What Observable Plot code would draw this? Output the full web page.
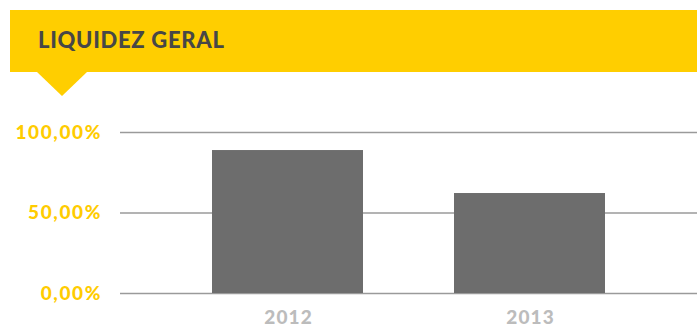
<!DOCTYPE html>
<html>
<head>
<meta charset="utf-8">
<script src="https://cdn.jsdelivr.net/npm/d3@7"></script>
<script src="https://cdn.jsdelivr.net/npm/@observablehq/plot@0.6"></script>
<style>
  html, body { margin: 0; padding: 0; background: #fff; }
  #wrap { position: relative; width: 697px; height: 328px; overflow: hidden; font-family: Lato, "DejaVu Sans", sans-serif; }
  #banner { position: absolute; left: 10px; top: 10px; width: 687px; height: 62px; background: #FFCE00; }
  #pointer { position: absolute; left: 37px; top: 72px; width: 0; height: 0;
    border-left: 25px solid transparent; border-right: 25px solid transparent; border-top: 24px solid #FFCE00; }
  #title { position: absolute; left: 38px; top: 27px; font-size: 22px; font-weight: 900; color: #474747; letter-spacing: 0.7px; line-height: 26px; }
  #chart { position: absolute; left: 0; top: 100px; }
  #chart g[aria-label="y-axis tick label"] { letter-spacing: 1.6px; }
  #chart g[aria-label="x-axis tick label"] { letter-spacing: 1.2px; }
</style>
</head>
<body>
<div id="wrap">
  <div id="banner"></div>
  <div id="pointer"></div>
  <div id="title">LIQUIDEZ GERAL</div>
  <div id="chart"></div>
</div>
<script>
const years = ["2012", "2013"];
const values = [88.8, 62.1];
const yTicks = [0, 50, 100];
const yTickLabels = ["0,00%", "50,00%", "100,00%"];

const data = years.map((y, i) => ({year: y, value: values[i]}));

const plot = Plot.plot({
  width: 697,
  height: 228,
  marginLeft: 120,
  marginRight: 0,
  marginTop: 32,
  marginBottom: 35,
  style: {fontFamily: "Lato, sans-serif", background: "transparent"},
  x: {domain: years, padding: 0.375, axis: null},
  y: {domain: [0, 100], axis: null},
  marks: [
    Plot.ruleY(yTicks, {stroke: "#9a9a9a", strokeWidth: 1.5}),
    Plot.barY(data, {x: "year", y: "value", fill: "#6d6d6d"}),
    Plot.axisY({ticks: yTicks, tickSize: 0, tickPadding: 18.5, tickFormat: (d) => yTickLabels[yTicks.indexOf(d)],
      fill: "#FFCC00", fontSize: 19, fontWeight: 900, label: null}),
    Plot.axisX({tickSize: 0, tickPadding: 17, fill: "#bcbcbc", fontSize: 19, fontWeight: 900, label: null, dx: 0.6})
  ]
});
document.getElementById("chart").appendChild(plot);
</script>
</body>
</html>
